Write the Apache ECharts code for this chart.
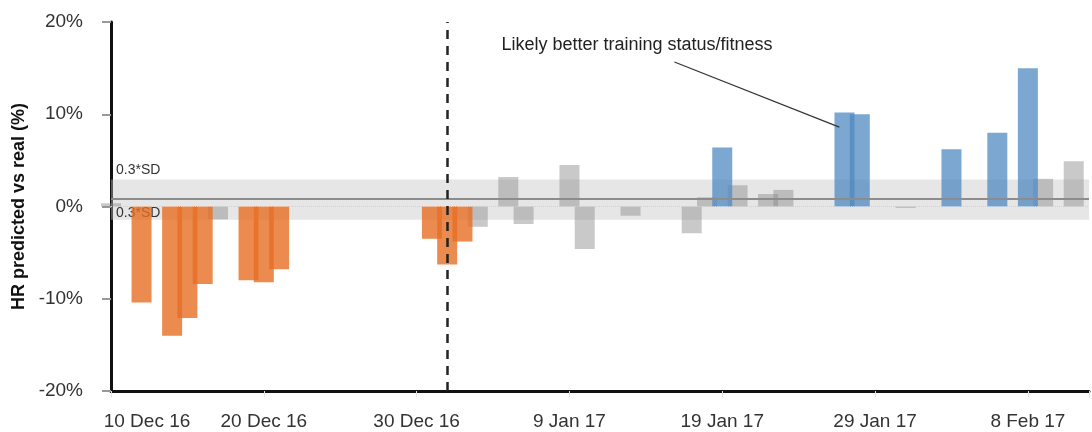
<!DOCTYPE html>
<html lang="en">
<head>
    <meta charset="UTF-8">
    <title>HR predicted vs real</title>
    <script src="https://cdn.jsdelivr.net/npm/echarts@6/dist/echarts.min.js"></script>
    <style>
        html, body { margin: 0; padding: 0; background: #fff; }
    </style>
</head>
<body>
<div id="main" style="width:1092px;height:432px"></div>
<script type="text/javascript">
    // days counted from 10 Dec 2016
    var tickLabels = ['10 Dec 16', '20 Dec 16', '30 Dec 16', '9 Jan 17', '19 Jan 17', '29 Jan 17', '8 Feb 17'];

    // sessions below the band (orange)
    var lowDays = [2, 4, 5, 6, 9, 10, 11, 21, 22, 23];
    var lowVals = [-10.4, -14.0, -12.1, -8.4, -8.0, -8.2, -6.8, -3.5, -6.3, -3.8];
    // sessions above the band (blue)
    var highDays = [40, 48, 49, 55, 58, 60];
    var highVals = [6.4, 10.2, 10.0, 6.2, 8.0, 15.0];
    // sessions inside / near the band (grey)
    var midDays = [0, 7, 24, 26, 27, 30, 31, 34, 38, 39, 41, 43, 44, 52, 61, 63];
    var midVals = [0.35, -1.4, -2.2, 3.2, -1.9, 4.5, -4.6, -1.0, -2.9, 1.0, 2.3, 1.35, 1.8, -0.15, 3.0, 4.9];

    var meanVal = 0.8;
    var sdTop = 2.93;
    var sdBottom = -1.43;
    var changeDay = 22; // 1 Jan 17

    var FONT = '"Liberation Sans", Arial, sans-serif';

    function items(days, vals, color) {
        return days.map(function (d, i) {
            return { value: [d, vals[i]], itemStyle: { color: color } };
        });
    }

    var barData = []
        .concat(items(midDays, midVals, 'rgba(135,135,135,0.45)'))
        .concat(items(lowDays, lowVals, 'rgba(231,110,36,0.8)'))
        .concat(items(highDays, highVals, 'rgba(79,138,194,0.75)'));

    var myChart = echarts.init(document.getElementById('main'));
    var option = {
        animation: false,
        textStyle: { fontFamily: FONT },
        grid: { left: 111, right: 2, top: 22, bottom: 41 },
        xAxis: {
            type: 'value',
            min: 0,
            max: 64,
            interval: 10,
            splitLine: { show: false },
            axisLine: { onZero: false, lineStyle: { color: '#111', width: 3 } },
            axisTick: { show: true, length: 6, lineStyle: { color: '#e2e2e2', width: 1 } },
            axisLabel: {
                fontSize: 19,
                color: '#333',
                margin: 21,
                fontFamily: FONT,
                formatter: function (v) {
                    if (v % 10 !== 0) return '';
                    if (v === 0) return '{first|' + tickLabels[0] + '}';
                    return tickLabels[v / 10];
                },
                rich: {
                    first: { padding: [0, 0, 0, 72], fontSize: 19, color: '#333', fontFamily: FONT }
                }
            }
        },
        yAxis: {
            type: 'value',
            min: -20,
            max: 20,
            interval: 10,
            name: 'HR predicted vs real (%)',
            nameLocation: 'middle',
            nameGap: 80,
            nameTextStyle: { fontSize: 18, fontWeight: 'bold', color: '#111', fontFamily: FONT },
            splitLine: { show: false },
            axisLine: { show: true, onZero: false, lineStyle: { color: '#111', width: 3 } },
            axisTick: { show: true, length: 9, lineStyle: { color: '#999', width: 2 } },
            axisLabel: { fontSize: 19, color: '#333', margin: 28, formatter: '{value}%', fontFamily: FONT }
        },
        series: [{
            type: 'bar',
            barWidth: 20,
            clip: false,
            data: barData,
            markArea: {
                silent: true,
                itemStyle: { color: 'rgba(195,195,195,0.42)' },
                label: { color: '#333', fontSize: 14, fontFamily: FONT },
                data: [
                    [{ yAxis: sdTop, label: { show: true, formatter: '0.3*SD', position: [5, -16] } }, { yAxis: meanVal }],
                    [{ yAxis: meanVal, label: { show: true, formatter: '0.3*SD', position: [5, 7] } }, { yAxis: sdBottom }]
                ]
            },
            markLine: {
                silent: true,
                symbol: ['none', 'none'],
                label: { show: false },
                data: [
                    { yAxis: 0, lineStyle: { color: '#cfcfcf', width: 1, type: 'dotted' } },
                    { yAxis: meanVal, lineStyle: { color: '#8c8c8c', width: 2, type: 'solid' } },
                    { xAxis: changeDay, lineStyle: { color: '#222', width: 2.5, type: [9, 7] } },
                    [
                        { coord: [36.87, 15.66], lineStyle: { color: '#333', width: 1.2, type: 'solid' } },
                        { coord: [47.66, 8.61] }
                    ]
                ]
            },
            markPoint: {
                silent: true,
                data: [{
                    coord: [25.55, 17.5],
                    symbol: 'circle',
                    symbolSize: 0,
                    label: {
                        show: true,
                        position: 'right',
                        distance: 0,
                        formatter: 'Likely better training status/fitness',
                        fontSize: 18,
                        color: '#222',
                        fontFamily: FONT
                    }
                }]
            }
        }]
    };
    myChart.setOption(option);
</script>
</body>
</html>
